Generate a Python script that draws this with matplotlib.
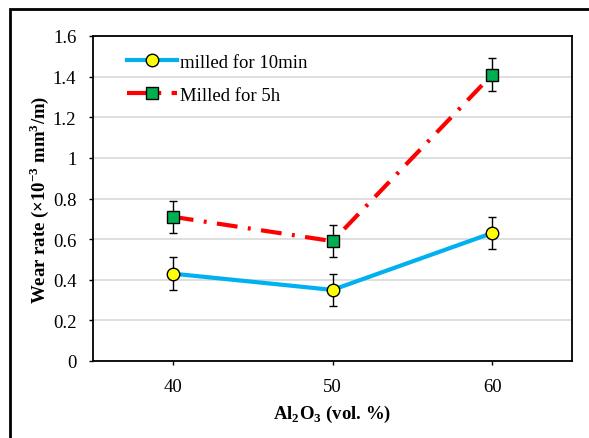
import matplotlib
matplotlib.use("Agg")
import matplotlib.pyplot as plt
from matplotlib.patches import Rectangle

plt.rcParams['font.family'] = ['Liberation Serif', 'DejaVu Serif']
plt.rcParams['mathtext.fontset'] = 'custom'
plt.rcParams['mathtext.rm'] = 'Liberation Serif'
plt.rcParams['mathtext.bf'] = 'Liberation Serif:bold'

alumina = [40, 50, 60]
milled_10min = [0.43, 0.35, 0.63]
milled_10min_err = [0.08, 0.08, 0.08]
milled_5h = [0.71, 0.59, 1.41]
milled_5h_err = [0.08, 0.08, 0.08]
yticks = [0, 0.2, 0.4, 0.6, 0.8, 1.0, 1.2, 1.4, 1.6]
ytick_labels = ['0', '0.2', '0.4', '0.6', '0.8', '1', '1.2', '1.4', '1.6']

FS = 13.5

fig = plt.figure(figsize=(5.89, 4.39), dpi=100)
ax = fig.add_axes([93/589, 1 - 362/439, (572-93)/589, (362-37)/439])

# outer frame
fig.patches.append(Rectangle((10/589, -0.1), 1.2, 1 - 10/439 + 0.1,
                             transform=fig.transFigure, fill=False,
                             edgecolor='black', linewidth=2))

ax.set_axisbelow(True)
ax.grid(axis='y', color='#d9d9d9', linewidth=1.2)

ax.errorbar(alumina, milled_10min, yerr=milled_10min_err, fmt='none',
            ecolor='black', elinewidth=1, capsize=3, capthick=1, zorder=2)
ax.errorbar(alumina, milled_5h, yerr=milled_5h_err, fmt='none',
            ecolor='black', elinewidth=1, capsize=3, capthick=1, zorder=2)

ax.plot(alumina, milled_10min, color='#00b0f0', linewidth=3, marker='o',
        markersize=9, markerfacecolor='#ffff00', markeredgecolor='black',
        markeredgewidth=1, label='milled for 10min', zorder=3)
ax.plot(alumina, milled_5h, color='#ff0000', linewidth=3,
        linestyle=(0, (5, 2.5, 0.7, 2.5)), marker='s',
        markersize=9, markerfacecolor='#00b050', markeredgecolor='black',
        markeredgewidth=1, label='Milled for 5h', zorder=3)

ax.set_xlim(35, 65)
ax.set_ylim(0, 1.6)
ax.set_xticks(alumina)
ax.set_xticklabels([str(v) for v in alumina])
ax.set_yticks(yticks)
ax.set_yticklabels(ytick_labels)
ax.tick_params(axis='both', labelsize=FS, direction='out', length=3,
               width=1, colors='black')
ax.tick_params(axis='x', pad=9)
ax.tick_params(axis='y', pad=9)
for s in ax.spines.values():
    s.set_linewidth(1.3)

ax.set_ylabel(r'Wear rate (×10$^{\mathbf{-3}}$ mm$^{\mathbf{3}}$/m)',
              fontsize=FS, fontweight='bold', labelpad=1)
ax.set_xlabel(r'Al$_{\mathbf{2}}$O$_{\mathbf{3}}$ (vol. %)',
              fontsize=FS, fontweight='bold', labelpad=6)

leg = ax.legend(loc='upper left', bbox_to_anchor=(0.035, 0.998), frameon=False,
                fontsize=FS, handlelength=2.7, handletextpad=0.15,
                labelspacing=0.85)

fig.savefig('out.png', dpi=100)
